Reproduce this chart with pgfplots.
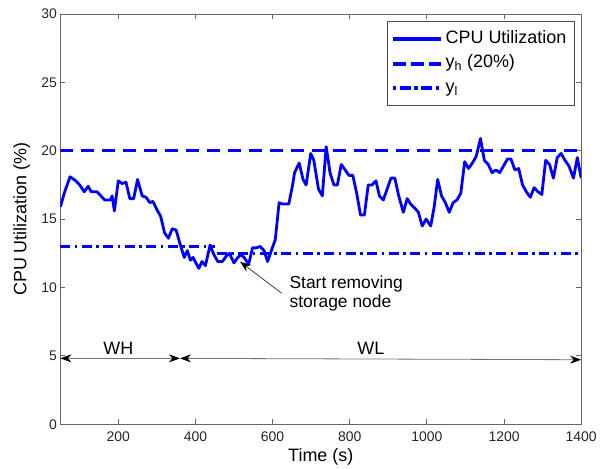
\documentclass[border=0pt]{standalone}
\usepackage{pgfplots}
\pgfplotsset{compat=1.18}
\usepackage{fontspec}
\setmainfont{Liberation Sans}
\usetikzlibrary{arrows.meta}
\pgfplotstableread{
x y
50 15.9
60 16.9
75 18.1
90 17.8
100 17.5
112 17.0
122 17.4
130 17.0
145 17.0
155 16.7
165 16.4
180 16.4
184 16.7
190 15.6
200 17.8
210 17.6
220 17.7
230 16.5
240 16.5
250 17.9
262 16.7
272 16.6
282 16.2
290 16.3
300 15.7
310 15.2
320 14.0
330 13.6
340 14.3
350 14.2
359 13.3
371 12.2
379 12.7
387 12.0
394 12.2
401 11.8
409 11.4
417 11.9
426 11.6
438 13.1
448 12.4
458 11.9
470 11.9
480 12.3
488 12.5
500 11.8
510 12.2
518 12.4
526 12.2
538 11.7
548 12.9
558 12.9
568 13.0
578 12.7
587 11.9
597 12.7
607 13.5
617 16.2
627 16.1
642 16.1
652 17.5
657 18.4
669 19.1
679 17.9
687 17.5
699 19.8
707 19.3
719 17.2
729 16.7
739 20.3
749 18.4
759 17.5
768 17.5
778 19.0
788 18.6
798 18.2
808 18.2
818 16.9
828 15.3
838 15.3
848 17.5
858 17.5
868 17.8
877 16.7
887 16.4
897 17.2
907 18.0
917 18.0
927 16.7
939 15.5
949 16.5
958 16.1
969 15.8
978 15.5
988 14.5
998 15.0
1010 14.5
1019 15.9
1028 17.9
1038 16.7
1048 16.2
1058 15.5
1068 16.2
1078 16.4
1088 16.9
1098 19.2
1108 18.7
1118 19.1
1128 19.6
1139 20.9
1149 19.3
1159 19.0
1169 18.4
1179 18.6
1189 18.4
1199 18.9
1209 19.4
1218 19.4
1228 18.6
1238 18.7
1248 17.5
1258 17.0
1268 16.6
1278 17.3
1288 17.0
1298 16.8
1308 19.3
1318 19.0
1328 18.0
1338 19.5
1348 19.8
1358 19.3
1368 18.9
1380 18.0
1390 19.5
1400 18.0
}\cpudata
\begin{document}
\begin{tikzpicture}
\begin{axis}[
  width=520.8bp, height=410.3bp, scale only axis,
  xmin=50, xmax=1400, ymin=0, ymax=30,
  xtick={200,400,...,1400}, ytick={0,5,...,30},
  tick pos=both, tick align=inside, major tick length=5bp,
  axis line style={black!60, line width=0.8bp},
  tick style={black!60, line width=0.8bp},
  /pgf/number format/assume math mode=true,
  /pgf/number format/1000 sep={},
  ticklabel style={font=\fontsize{14}{16}\selectfont, text=black!85},
  xticklabel style={yshift=-3.5bp},
  xlabel={Time (s)}, ylabel={CPU Utilization (\%)},
  every axis x label/.style={at={(axis description cs:0.5,0)}, anchor=center, yshift=-33bp, font=\fontsize{18}{20}\selectfont},
  every axis y label/.style={at={(axis description cs:0,0.5)}, anchor=center, xshift=-38.7bp, rotate=90, font=\fontsize{18}{20}\selectfont},
  clip mode=individual,
  unbounded coords=jump,
  legend cell align=left,
  legend style={at={(rel axis cs:1,1)}, anchor=north east, xshift=-7.2bp, yshift=-7bp,
    draw=black!70, font=\fontsize{18}{20}\selectfont,
    nodes={inner sep=1.5bp, text height=12.5bp, text depth=4bp},
    inner xsep=6bp, inner ysep=8bp, row sep=5bp,
    /tikz/every odd column/.append style={column sep=4bp}},
]
\addlegendimage{legend image code/.code={\fill[blue] (0bp,-1.5bp) rectangle (47bp,1.5bp);}}
\addlegendentry{CPU Utilization}
\addlegendimage{legend image code/.code={\fill[blue] (0bp,-1.4bp) rectangle (12bp,1.4bp) (18bp,-1.4bp) rectangle (30bp,1.4bp) (36bp,-1.4bp) rectangle (47bp,1.4bp);}}
\addlegendentry{y\textsubscript{h} (20\%)}
\addlegendimage{legend image code/.code={\fill[blue] (0bp,-1.4bp) rectangle (2.5bp,1.4bp) (7bp,-1.4bp) rectangle (17bp,1.4bp) (21.5bp,-1.4bp) rectangle (24bp,1.4bp) (28.5bp,-1.4bp) rectangle (38.5bp,1.4bp) (43bp,-1.4bp) rectangle (45.5bp,1.4bp);}}
\addlegendentry{y\textsubscript{l}}
\addplot[blue, line width=2.8bp, line join=round, forget plot] table[x=x, y=y] {\cpudata};
\addplot[blue, line width=2.6bp, dash pattern=on 13bp off 8bp, forget plot] coordinates {(50,20) (1400,20)};
\addplot[blue, line width=2.6bp, dash pattern=on 10bp off 4.5bp on 2.5bp off 4.5bp, forget plot] coordinates {(50,13) (450,13) (452,nan) (455,12.5) (1400,12.5)};

\draw[black!55, line width=0.8bp, {Stealth[length=11bp,width=8bp,inset=3.5bp,color=black]}-{Stealth[length=11bp,width=8bp,inset=3.5bp,color=black]}] (axis cs:50,4.82) -- (axis cs:360,4.82);
\draw[black!55, line width=0.8bp, {Stealth[length=11bp,width=8bp,inset=3.5bp,color=black]}-{Stealth[length=11bp,width=8bp,inset=3.5bp,color=black]}] (axis cs:360,4.82) -- (axis cs:1400,4.72);
\node[font=\fontsize{18}{20}\selectfont] at (axis cs:200,5.56) {WH};
\node[font=\fontsize{18}{20}\selectfont] at (axis cs:855,5.56) {WL};
\draw[black!75, line width=0.8bp, -{Stealth[length=11bp,width=8bp,inset=3.5bp,color=black]}] (axis cs:623.7,9.58) -- (axis cs:515.6,11.89);
\node[anchor=west, align=left, inner sep=0pt, font=\fontsize{17.5}{19.5}\selectfont] at (axis cs:643.5,9.56) {Start removing\\storage node};
\path ([xshift=-60.4bp,yshift=-42.7bp]rel axis cs:0,0) rectangle ([xshift=18.8bp,yshift=14bp]rel axis cs:1,1);
\end{axis}
\end{tikzpicture}
\end{document}
